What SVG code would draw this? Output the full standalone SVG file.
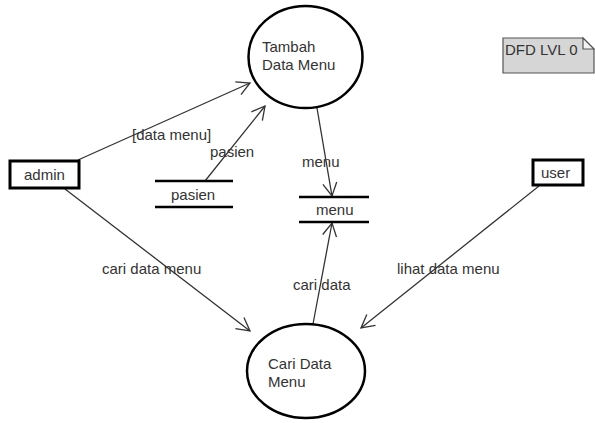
<svg xmlns="http://www.w3.org/2000/svg" width="595" height="423" viewBox="0 0 595 423">
<defs>
<style>
text{font-family:"Liberation Sans",Arial,sans-serif;font-size:15px;fill:#333}
.proc{fill:#fff;stroke:#000;stroke-width:2.5}
.ext{fill:#fff;stroke:#000;stroke-width:3}
.store{stroke:#000;stroke-width:2.5}
.flow{fill:none;stroke:#333;stroke-width:1.3;marker-end:url(#arr)}
</style>
<marker id="arr" markerUnits="userSpaceOnUse" markerWidth="16" markerHeight="16" viewBox="0 0 16 16" refX="14" refY="8" orient="auto">
<path d="M1,1 L14,8 L1,15" fill="none" stroke="#333" stroke-width="1.3"/>
</marker>
</defs>
<rect width="595" height="423" fill="#fff"/>
<g id="connectors">
<line class="flow" x1="78" y1="160" x2="250" y2="83"/>
<line class="flow" x1="205" y1="181" x2="265" y2="106"/>
<line class="flow" x1="317" y1="108" x2="332" y2="196"/>
<line class="flow" x1="65" y1="189" x2="250" y2="331"/>
<line class="flow" x1="313" y1="324" x2="332" y2="223"/>
<line class="flow" x1="539" y1="186" x2="361" y2="328"/>
<text x="132" y="140">[data menu]</text>
<text x="210" y="157">pasien</text>
<text x="302" y="167">menu</text>
<text x="102" y="274">cari data menu</text>
<text x="293" y="290">cari data</text>
<text x="397" y="274">lihat data menu</text>
</g>
<g id="tambah">
<ellipse class="proc" cx="305.5" cy="57" rx="57" ry="51"/>
<text x="262" y="52">Tambah</text>
<text x="262" y="70">Data Menu</text>
</g>
<g id="cari">
<ellipse class="proc" cx="306" cy="371" rx="59" ry="47"/>
<text x="268" y="369">Cari Data</text>
<text x="268" y="387">Menu</text>
</g>
<g id="admin">
<rect class="ext" x="10" y="161" width="69" height="27"/>
<text x="24" y="180">admin</text>
</g>
<g id="user">
<rect class="ext" x="533" y="160" width="50" height="25"/>
<text x="541" y="178">user</text>
</g>
<g id="pasien">
<line class="store" x1="155" y1="181" x2="233" y2="181"/>
<line class="store" x1="155" y1="207" x2="233" y2="207"/>
<text x="171" y="200">pasien</text>
</g>
<g id="menu">
<line class="store" x1="299" y1="197" x2="369" y2="197"/>
<line class="store" x1="299" y1="222" x2="369" y2="222"/>
<text x="316" y="215">menu</text>
</g>
<g id="note">
<path d="M503,38 L583,38 L594,49 L594,73 L503,73 Z" fill="#d6d6d6" stroke="#555" stroke-width="1.2"/>
<path d="M583,38 L583,49 L594,49 Z" fill="#f2f2f2" stroke="#555" stroke-width="1.2"/>
<text x="505" y="55">DFD LVL 0</text>
</g>
</svg>
